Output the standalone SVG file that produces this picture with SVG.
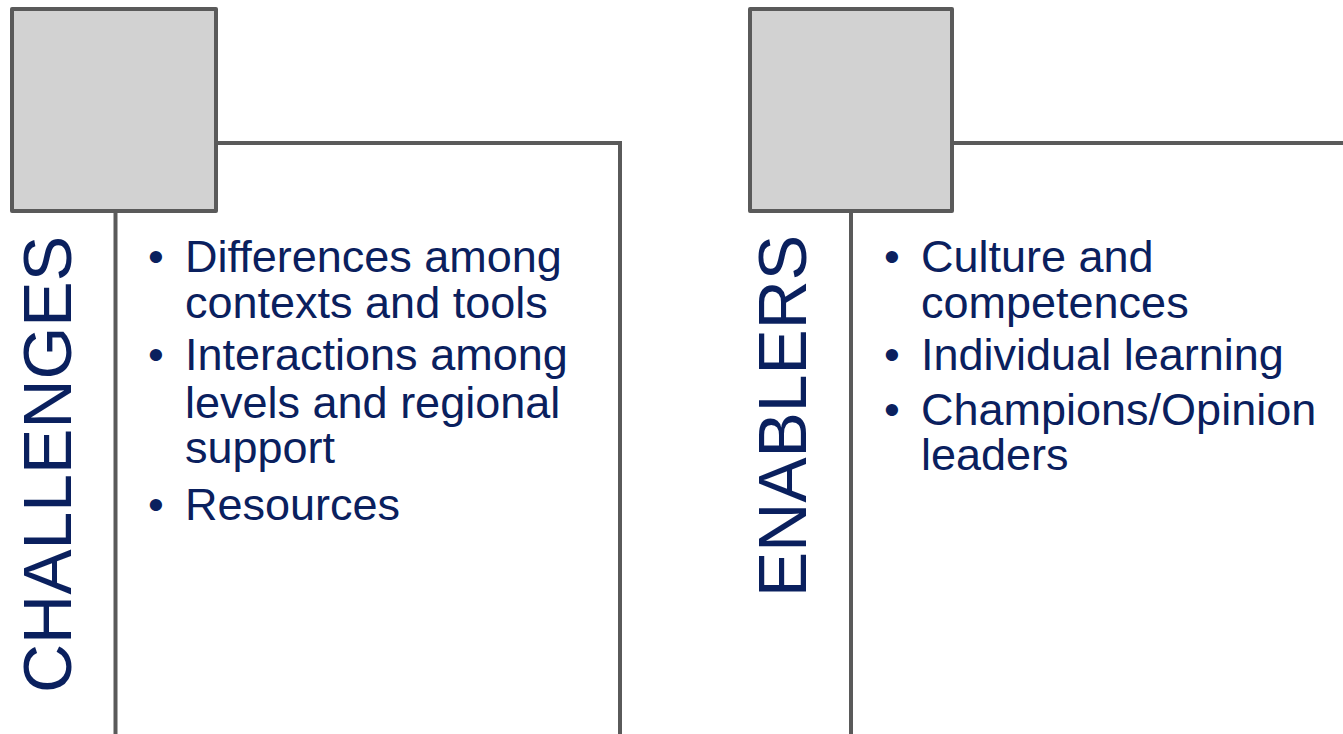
<svg xmlns="http://www.w3.org/2000/svg" width="1343" height="734" viewBox="0 0 1343 734">
<style>
.box{fill:#d2d2d2;stroke:#5a5a5a;stroke-width:4;stroke-linejoin:round}
.ln{fill:none;stroke:#5a5a5a;stroke-width:4}
.t{font-family:"Liberation Sans",Arial,sans-serif;fill:#0a205e}
.b{font-size:45px}
.h{font-size:69px}
</style>
<rect width="1343" height="734" fill="#ffffff"/>
<g id="connectors">
<polyline class="ln" points="216,143 620,143 620,734"/>
<line class="ln" x1="115.5" y1="211" x2="115.5" y2="734"/>
<line class="ln" x1="952" y1="143" x2="1343" y2="143"/>
<line class="ln" x1="851" y1="211" x2="851" y2="734"/>
</g>
<g id="challenges">
<rect class="box" x="12" y="9" width="204" height="202"/>
<text class="t h" transform="translate(71,693) rotate(-90)" textLength="457" lengthAdjust="spacingAndGlyphs">CHALLENGES</text>
<g class="t b">
<text x="148" y="272">•</text>
<text x="185" y="272">Differences among</text>
<text x="185" y="318">contexts and tools</text>
<text x="148" y="370">•</text>
<text x="185" y="370">Interactions among</text>
<text x="185" y="418">levels and regional</text>
<text x="185" y="463">support</text>
<text x="148" y="520">•</text>
<text x="185" y="520">Resources</text>
</g>
</g>
<g id="enablers">
<rect class="box" x="750" y="9" width="202" height="202"/>
<text class="t h" transform="translate(806,597) rotate(-90)" textLength="362" lengthAdjust="spacingAndGlyphs">ENABLERS</text>
<g class="t b">
<text x="884" y="272">•</text>
<text x="921" y="272">Culture and</text>
<text x="921" y="318">competences</text>
<text x="884" y="370">•</text>
<text x="921" y="370">Individual learning</text>
<text x="884" y="425">•</text>
<text x="921" y="425">Champions/Opinion</text>
<text x="921" y="470">leaders</text>
</g>
</g>
</svg>
